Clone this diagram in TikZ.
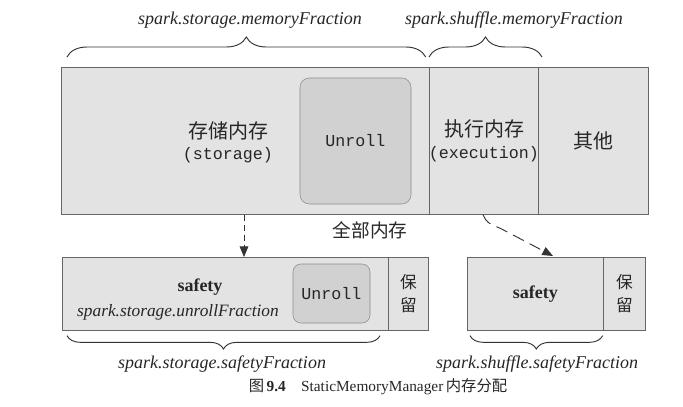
\documentclass[tikz,border=0pt]{standalone}
\usepackage{fontspec}
\setmainfont{Liberation Serif}
\setmonofont{Liberation Mono}
\newfontfamily\cjk{Noto Sans CJK SC}
\usetikzlibrary{arrows.meta,decorations.pathreplacing,calc}
\begin{document}
\begin{tikzpicture}[x=0.75pt,y=-0.75pt,
  membox/.style={draw=black!60, fill=black!11, line width=0.5pt, inner sep=0pt, anchor=north west, minimum height=110.25pt},
  lowbox/.style={draw=black!60, fill=black!11, line width=0.5pt, inner sep=0pt, anchor=north west, minimum height=54.75pt},
  unrollbox/.style={draw=black!45, fill=black!18, rounded corners=7pt, line width=0.4pt, inner sep=0pt},
  cjkl/.style={font=\cjk\fontsize{15}{18}\selectfont, text=black!85},
  cjks/.style={font=\cjk\fontsize{12.5}{17}\selectfont, text=black!85, align=center},
  mono/.style={font=\ttfamily\fontsize{12.5}{14}\selectfont, text=black!85},
  itl/.style={font=\itshape\fontsize{13.5}{16}\selectfont, text=black!85},
  bld/.style={font=\bfseries\fontsize{13.5}{16}\selectfont, text=black!85},
  brc/.style={decorate, decoration={brace, amplitude=#1}, line width=0.7pt, draw=black!80},
  arrA/.style={dash pattern=on 5pt off 2.5pt, -{Triangle[length=8pt,width=6.5pt]}, line width=0.7pt, draw=black!80},
  arrB/.style={dash pattern=on 9pt off 5pt, -{Triangle[length=8pt,width=6.5pt]}, line width=0.7pt, draw=black!80}
]
\useasboundingbox (0,0) rectangle (683,407);

% top row
\node[membox, minimum width=276pt] (stor) at (61,67) {};
\node[membox, minimum width=81.75pt] (exec) at (429,67) {};
\node[membox, minimum width=82.5pt] (other) at (538,67) {};
\node[unrollbox, minimum width=83.25pt, minimum height=94.5pt] (unr) at (355.5,141) {};
\node[mono] (unrt) at (unr.center) {Unroll};
\node[cjkl] (storcn) at (228,131) {存储内存};
\node[mono] (storen) at (228,155) {(storage)};
\node[cjkl] (execcn) at (484,129) {执行内存};
\node[mono] (execen) at (484,154) {(execution)};
\node[cjkl] (othert) at (other.center) {其他};

% top braces
\draw[brc=15pt] ($(stor.north west)+(6,-10)$) -- ($(stor.north east)+(-4,-10)$);
\draw[brc=15pt] ($(exec.north west)+(0,-10)$) -- ($(exec.north west)+(113,-10)$);
\node[itl] (lblA) at (250,20) {spark.storage.memoryFraction};
\node[itl] (lblB) at (514,20) {spark.shuffle.memoryFraction};

% middle label
\node[font=\cjk\fontsize{14}{16}\selectfont, text=black!85] (all) at (370,230) {全部内存};

% bottom left
\node[lowbox, minimum width=244.5pt] (sfA) at (62,257) {};
\node[lowbox, minimum width=30pt] (rsA) at (388,257) {};
\node[unrollbox, minimum width=57.75pt, minimum height=44.25pt, rounded corners=6pt] (unrs) at (331.5,293.5) {};
\node[mono] (unrst) at (unrs.center) {Unroll};
\node[bld] (sfAt) at (200,287) {safety};
\node[itl, font=\itshape\fontsize{13}{15}\selectfont] (sfAf) at (178,312) {spark.storage.unrollFraction};
\node[cjks] (rsAt) at (rsA.center) {保\\留};

% bottom right
\node[lowbox, minimum width=102pt] (sfB) at (467,257) {};
\node[lowbox, minimum width=31.5pt] (rsB) at (603,257) {};
\node[bld] (sfBt) at (sfB.center) {safety};
\node[cjks] (rsBt) at (rsB.center) {保\\留};

% bottom braces
\draw[brc=10pt] ($(rsA.south west)+(-8,5)$) -- ($(sfA.south west)+(5,5)$);
\draw[brc=10pt] ($(sfB.south east)+(-1,5)$) -- ($(sfB.south west)+(3,5)$);
\node[itl] (lblC) at (222,364) {spark.storage.safetyFraction};
\node[itl] (lblD) at (537,364) {spark.shuffle.safetyFraction};

% arrows
\draw[arrA] ($(stor.south west)+(183,0)$) -- ($(sfA.north west)+(182,0)$);
\draw[arrB] ($(exec.south west)+(54,0)$) .. controls ($(exec.south west)+(58,8)$) .. ($(exec.south west)+(72,14)$) -- ($(sfB.north west)+(86,-1)$);

% caption
\node[font=\fontsize{11.5}{14}\selectfont, text=black!85] (cap) at (378,387) {{\cjk 图}\,\textbf{9.4}\quad StaticMemoryManager\,{\cjk 内存分配}};
\end{tikzpicture}
\end{document}
